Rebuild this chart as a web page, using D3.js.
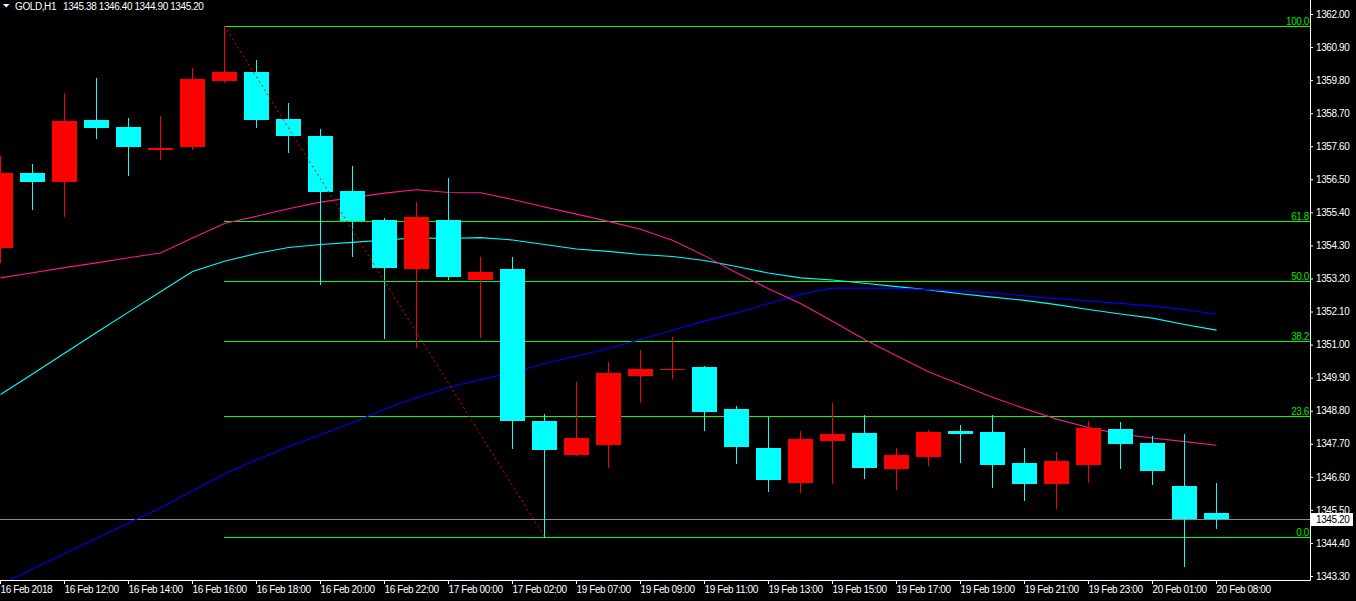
<!DOCTYPE html>
<html><head><meta charset="utf-8">
<script src="https://cdn.jsdelivr.net/npm/d3@7"></script>
<style>
html,body{margin:0;padding:0;background:#000;overflow:hidden}
svg{display:block}
text{font-family:"Liberation Sans",Arial,sans-serif;font-size:10px;letter-spacing:-0.4px}
</style></head><body><svg id="c" width="1356" height="601"></svg>
<script>
const symbol = "GOLD,H1";
const times = ["16 Feb 10:00","16 Feb 11:00","16 Feb 12:00","16 Feb 13:00","16 Feb 14:00","16 Feb 15:00","16 Feb 16:00","16 Feb 17:00","16 Feb 18:00","16 Feb 19:00","16 Feb 20:00","16 Feb 21:00","16 Feb 22:00","16 Feb 23:00","17 Feb 00:00","17 Feb 01:00","17 Feb 02:00","19 Feb 06:00","19 Feb 07:00","19 Feb 08:00","19 Feb 09:00","19 Feb 10:00","19 Feb 11:00","19 Feb 12:00","19 Feb 13:00","19 Feb 14:00","19 Feb 15:00","19 Feb 16:00","19 Feb 17:00","19 Feb 18:00","19 Feb 19:00","19 Feb 20:00","19 Feb 21:00","19 Feb 22:00","19 Feb 23:00","20 Feb 00:00","20 Feb 01:00","20 Feb 07:00","20 Feb 08:00"];
const open  = [1354.23,1356.70,1356.40,1358.46,1358.23,1357.47,1357.57,1359.76,1360.06,1358.49,1357.93,1356.10,1355.16,1353.51,1355.13,1353.14,1353.50,1348.47,1347.31,1347.67,1349.97,1350.17,1350.24,1348.87,1347.57,1346.41,1347.80,1348.07,1346.87,1347.27,1348.14,1348.10,1347.07,1346.37,1347.01,1348.20,1347.74,1346.31,1345.38];
const high  = [1357.26,1357.00,1359.36,1359.86,1358.53,1358.59,1360.19,1361.61,1360.46,1359.03,1358.19,1356.93,1355.20,1355.76,1356.53,1353.90,1353.93,1348.70,1349.74,1350.43,1350.83,1351.24,1350.30,1348.97,1348.60,1348.14,1349.07,1348.67,1347.57,1348.17,1348.34,1348.67,1347.57,1347.44,1348.47,1348.44,1347.97,1348.04,1346.40];
const low   = [1353.76,1355.50,1355.27,1357.87,1356.64,1357.17,1357.50,1359.74,1358.24,1357.40,1353.02,1353.94,1351.21,1350.91,1353.18,1351.24,1347.55,1344.61,1347.31,1346.92,1349.08,1349.88,1348.15,1347.07,1346.14,1346.08,1346.41,1346.57,1346.21,1347.01,1347.10,1346.27,1345.84,1345.57,1346.44,1346.91,1346.37,1343.62,1344.90];
const close = [1356.70,1356.40,1358.43,1358.20,1357.57,1357.53,1359.83,1360.06,1358.47,1357.94,1356.07,1355.10,1353.54,1355.23,1353.24,1353.40,1348.45,1347.48,1347.90,1350.04,1350.20,1350.20,1348.75,1347.58,1346.51,1347.87,1348.04,1346.91,1347.34,1348.10,1348.04,1347.01,1346.37,1347.14,1348.24,1347.70,1346.80,1345.20,1345.20];
const maPink = [1353.22,1353.39,1353.56,1353.72,1353.89,1354.05,1354.55,1355.03,1355.27,1355.52,1355.74,1355.89,1356.04,1356.15,1356.06,1356.05,1355.83,1355.58,1355.34,1355.10,1354.84,1354.47,1353.96,1353.39,1352.86,1352.37,1351.78,1351.17,1350.63,1350.10,1349.67,1349.25,1348.87,1348.52,1348.24,1348.02,1347.89,1347.77,1347.65];
const maAqua = [1349.34,1350.02,1350.71,1351.40,1352.08,1352.76,1353.43,1353.77,1354.03,1354.23,1354.33,1354.40,1354.48,1354.55,1354.53,1354.56,1354.48,1354.33,1354.18,1354.10,1354.00,1353.93,1353.80,1353.60,1353.38,1353.22,1353.15,1353.04,1352.93,1352.82,1352.69,1352.58,1352.47,1352.33,1352.17,1352.02,1351.88,1351.67,1351.48];
const maBlue = [1343.01,1343.53,1344.04,1344.56,1345.06,1345.57,1346.14,1346.69,1347.17,1347.60,1348.00,1348.40,1348.85,1349.24,1349.57,1349.84,1350.07,1350.37,1350.62,1350.87,1351.17,1351.48,1351.78,1352.05,1352.37,1352.67,1352.88,1352.88,1352.87,1352.83,1352.78,1352.72,1352.62,1352.53,1352.45,1352.37,1352.28,1352.17,1352.01];
const priceTicks = [1362.00,1360.90,1359.80,1358.70,1357.60,1356.50,1355.40,1354.30,1353.20,1352.10,1351.00,1349.90,1348.80,1347.70,1346.60,1345.50,1344.40,1343.30];
const timeTickLabels = ["16 Feb 2018","16 Feb 12:00","16 Feb 14:00","16 Feb 16:00","16 Feb 18:00","16 Feb 20:00","16 Feb 22:00","17 Feb 00:00","17 Feb 02:00","19 Feb 07:00","19 Feb 09:00","19 Feb 11:00","19 Feb 13:00","19 Feb 15:00","19 Feb 17:00","19 Feb 19:00","19 Feb 21:00","19 Feb 23:00","20 Feb 01:00","20 Feb 08:00"];
const fibLevels = [100.0, 61.8, 50.0, 38.2, 23.6, 0.0];
const fibFrom = 7, fibTo = 17;

const W = 1310, H = 580;
const svg = d3.select("#c");
svg.append("rect").attr("width",1356).attr("height",601).attr("fill","#000");

const idx = d3.range(times.length);
const x = d3.scalePoint().domain(idx).range([0, 32*(times.length-1)]);
const y = d3.scaleLinear().domain([1343.3, 1362.0]).range([576, 14]);
const R = v => Math.round(y(v));

svg.append("defs").append("clipPath").attr("id","clip")
  .append("rect").attr("x",0).attr("y",0).attr("width",W).attr("height",H);
const g = svg.append("g").attr("clip-path","url(#clip)");

// Fibonacci
const fHi = high[fibFrom], fLo = low[fibTo];
const fibG = g.append("g");
fibLevels.forEach(l => {
  const v = fLo + (fHi - fLo) * l / 100;
  const yy = R(v) + 0.5;
  fibG.append("line").attr("x1", x(fibFrom)).attr("x2", W).attr("y1", yy).attr("y2", yy)
    .attr("stroke","#00ff00").attr("stroke-width",1).attr("shape-rendering","crispEdges");
  fibG.append("text").attr("x",1309).attr("y",yy-2).attr("text-anchor","end")
    .attr("fill","#00e600").text(l.toFixed(1));
});

// current price line
const last = times.length-1;
g.append("line").attr("x1",0).attr("x2",W).attr("y1",R(close[last])+0.5).attr("y2",R(close[last])+0.5)
  .attr("stroke","#8c8c8c").attr("shape-rendering","crispEdges");

// Moving averages
const line = d3.line().x((d,i)=>x(i)+0.5).y(d=>y(d));
[[maAqua,"#00ffff"],[maBlue,"#0000ff"],[maPink,"#ff1493"]].forEach(([arr,c])=>{
  g.append("path").attr("d", line(arr)).attr("fill","none").attr("stroke",c).attr("stroke-width",1.1);
});

// Candles
const cg = g.append("g").attr("shape-rendering","crispEdges");
idx.forEach(i => {
  const cx = Math.round(x(i));
  const col = close[i] >= open[i] ? "#ff0000" : "#00ffff";
  const t = R(Math.max(open[i],close[i])), b = R(Math.min(open[i],close[i]));
  cg.append("rect").attr("x",cx).attr("width",1).attr("y",R(high[i])).attr("height",R(low[i])-R(high[i])+1).attr("fill",col);
  cg.append("rect").attr("x",cx-12).attr("width",25).attr("y",t).attr("height",Math.max(1,b-t)).attr("fill",col);
});

// fib trend line
g.append("line").attr("x1",x(fibFrom)+0.5).attr("y1",y(fHi)).attr("x2",x(fibTo)+0.5).attr("y2",y(fLo))
  .attr("stroke","#ff0000").attr("stroke-width",1).attr("stroke-dasharray","2,3");

// axes frame
svg.append("line").attr("x1",W+0.5).attr("x2",W+0.5).attr("y1",0).attr("y2",H+0.5).attr("stroke","#fff");
svg.append("line").attr("x1",0).attr("x2",W+0.5).attr("y1",H+0.5).attr("y2",H+0.5).attr("stroke","#fff");

const yAxis = d3.axisRight(y).tickValues(priceTicks).tickSize(3).tickPadding(3).tickFormat(d3.format(".2f"));
const ya = svg.append("g").attr("transform",`translate(${W},0)`).call(yAxis);
ya.select(".domain").remove();
ya.selectAll("line").attr("stroke","#fff");
ya.selectAll("text").attr("fill","#fff").attr("font-family",null).attr("font-size",null);

const xAxis = d3.axisBottom(x).tickValues(idx.filter(i=>i%2===0)).tickSize(4).tickPadding(2)
  .tickFormat(i => timeTickLabels[i/2]);
const xa = svg.append("g").attr("transform",`translate(0,${H})`).call(xAxis);
xa.select(".domain").remove();
xa.selectAll("line").attr("stroke","#fff");
xa.selectAll("text").attr("fill","#fff").attr("text-anchor","start").attr("x",0).attr("font-family",null).attr("font-size",null);

// current price label
const cy = R(close[last]);
svg.append("rect").attr("x",1311).attr("y",cy-6).attr("width",42).attr("height",13).attr("fill","#fff");
svg.append("text").attr("x",1316).attr("y",cy+4).attr("fill","#000").text(close[last].toFixed(2));

// header
svg.append("path").attr("d","M3,4 L9.5,4 L6.25,7.5 Z").attr("fill","#fff");
svg.append("text").attr("x",15).attr("y",10).attr("fill","#fff").text(symbol);
svg.append("text").attr("x",63).attr("y",10).attr("fill","#fff")
  .text([open[last],high[last],low[last],close[last]].map(v=>v.toFixed(2)).join(" "));
</script></body></html>
